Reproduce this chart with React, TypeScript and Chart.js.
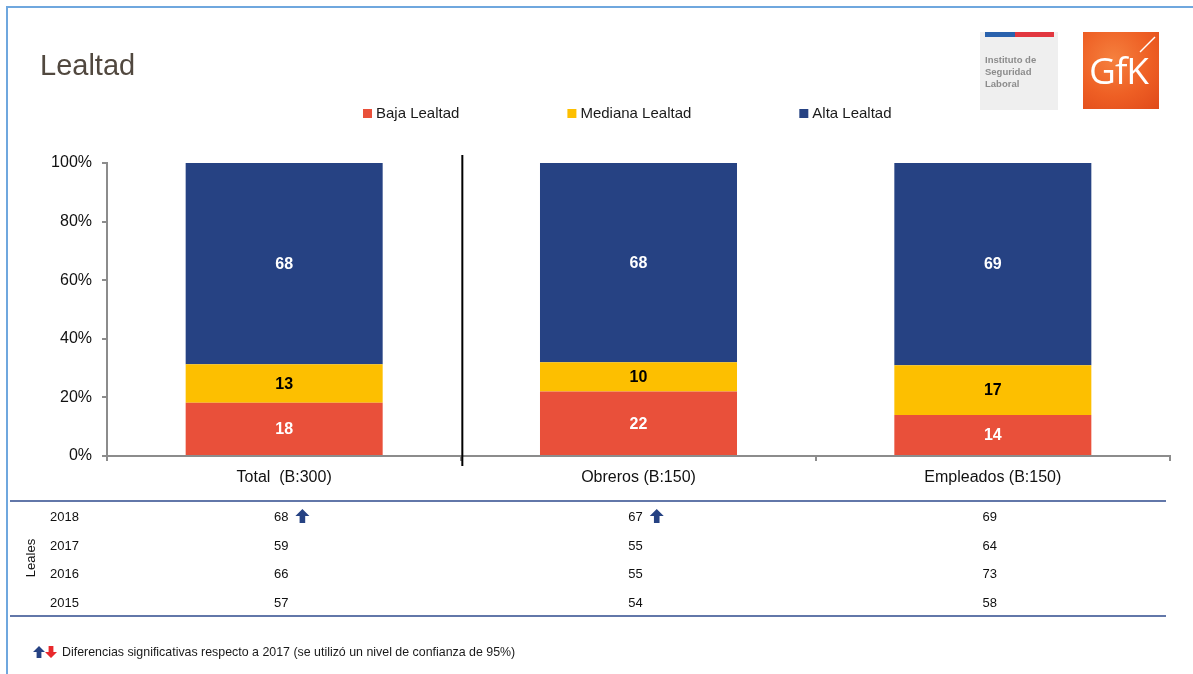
import React, { useEffect, useRef } from 'react';
import { Chart, registerables } from 'chart.js';

Chart.register(...registerables);

const FONT = "'Liberation Sans', Arial, Helvetica, sans-serif";

const categories = ['Total  (B:300)', 'Obreros (B:150)', 'Empleados (B:150)'];
const seriesNames = ['Baja Lealtad', 'Mediana Lealtad', 'Alta Lealtad'];
const bajaValues = [18, 22, 14];
const medianaValues = [13, 10, 17];
const altaValues = [68, 68, 69];
const yTickValues = [0, 20, 40, 60, 80, 100];

const tableYears = ['2018', '2017', '2016', '2015'];
const leales2018 = [68, 67, 69];
const leales2017 = [59, 55, 64];
const leales2016 = [66, 55, 73];
const leales2015 = [57, 54, 58];
const significantUp2018 = [true, true, false];
const tableSideLabel = 'Leales';
const footnote = 'Diferencias significativas respecto a 2017 (se utilizó un nivel de confianza de 95%)';

const seriesColors = ['#E9503A', '#FDBF00', '#264283'];
const labelColors = ['#ffffff', '#000000', '#ffffff'];
const rawSeries = [bajaValues, medianaValues, altaValues];
const tableRows = [leales2018, leales2017, leales2016, leales2015];

const totals = categories.map((_, i) => rawSeries.reduce((s, arr) => s + arr[i], 0));
const shareSeries = rawSeries.map((arr) => arr.map((v, i) => (v / totals[i]) * 100));

function drawArrow(ctx: CanvasRenderingContext2D, x: number, yTop: number, w: number, h: number, color: string, up: boolean) {
  ctx.save();
  ctx.fillStyle = color;
  ctx.beginPath();
  if (up) {
    ctx.moveTo(x + w / 2, yTop);
    ctx.lineTo(x + w, yTop + h * 0.5);
    ctx.lineTo(x + w * 0.7, yTop + h * 0.5);
    ctx.lineTo(x + w * 0.7, yTop + h);
    ctx.lineTo(x + w * 0.3, yTop + h);
    ctx.lineTo(x + w * 0.3, yTop + h * 0.5);
    ctx.lineTo(x, yTop + h * 0.5);
  } else {
    ctx.moveTo(x + w / 2, yTop + h);
    ctx.lineTo(x + w, yTop + h * 0.5);
    ctx.lineTo(x + w * 0.7, yTop + h * 0.5);
    ctx.lineTo(x + w * 0.7, yTop);
    ctx.lineTo(x + w * 0.3, yTop);
    ctx.lineTo(x + w * 0.3, yTop + h * 0.5);
    ctx.lineTo(x, yTop + h * 0.5);
  }
  ctx.closePath();
  ctx.fill();
  ctx.restore();
}

const overlayPlugin = {
  id: 'overlay',
  afterDatasetsDraw(chart: any) {
    const ctx: CanvasRenderingContext2D = chart.ctx;
    ctx.save();
    ctx.font = `bold 16px ${FONT}`;
    ctx.textAlign = 'center';
    ctx.textBaseline = 'middle';
    chart.data.datasets.forEach((_: any, di: number) => {
      const meta = chart.getDatasetMeta(di);
      meta.data.forEach((el: any, j: number) => {
        const p = el.getProps(['x', 'y', 'base'], true);
        ctx.fillStyle = labelColors[di];
        ctx.fillText(String(rawSeries[di][j]), p.x, (p.y + p.base) / 2 + 1);
      });
    });
    ctx.restore();
  },
  afterDraw(chart: any) {
    const ctx: CanvasRenderingContext2D = chart.ctx;
    const xs = chart.scales.x;
    const area = chart.chartArea;
    ctx.save();

    // legend (from the datasets)
    ctx.font = `15px ${FONT}`;
    ctx.textBaseline = 'middle';
    ctx.textAlign = 'left';
    let lx = 363;
    chart.data.datasets.forEach((ds: any) => {
      ctx.fillStyle = ds.backgroundColor;
      ctx.fillRect(lx, 109, 9, 9);
      ctx.fillStyle = '#1a1a1a';
      ctx.fillText(ds.label, lx + 13, 114);
      lx += 13 + ctx.measureText(ds.label).width + 108;
    });

    // separator between Total and the groups
    const sepX = (xs.getPixelForValue(0) + xs.getPixelForValue(1)) / 2 + 1;
    ctx.strokeStyle = '#000';
    ctx.lineWidth = 2;
    ctx.beginPath();
    ctx.moveTo(sepX, area.top - 8);
    ctx.lineTo(sepX, area.bottom + 10);
    ctx.stroke();

    // table lines
    ctx.strokeStyle = '#2E4A8C';
    ctx.lineWidth = 1.5;
    [501, 616].forEach((ly) => {
      ctx.beginPath();
      ctx.moveTo(10, ly);
      ctx.lineTo(1166, ly);
      ctx.stroke();
    });

    // table text
    ctx.fillStyle = '#111';
    ctx.font = `13px ${FONT}`;
    ctx.textBaseline = 'middle';
    const rowY = [517, 546, 574, 603];
    tableYears.forEach((yr, r) => {
      ctx.textAlign = 'left';
      ctx.fillStyle = '#111';
      ctx.fillText(yr, 50, rowY[r]);
      tableRows[r].forEach((v, c) => {
        const cx = xs.getPixelForValue(c) - 3;
        ctx.textAlign = 'center';
        ctx.fillStyle = '#111';
        ctx.fillText(String(v), cx, rowY[r]);
        if (r === 0 && significantUp2018[c]) {
          const tw = ctx.measureText(String(v)).width;
          drawArrow(ctx, cx + tw / 2 + 7, rowY[r] - 8, 14, 14, '#264283', true);
        }
      });
    });
    // side label
    ctx.save();
    ctx.translate(31, 558);
    ctx.rotate(-Math.PI / 2);
    ctx.textAlign = 'center';
    ctx.fillStyle = '#111';
    ctx.fillText(tableSideLabel, 0, 0);
    ctx.restore();

    // footnote
    drawArrow(ctx, 33, 646, 12, 12, '#264283', true);
    drawArrow(ctx, 45, 646, 12, 12, '#E8282B', false);
    ctx.font = `12.4px ${FONT}`;
    ctx.textAlign = 'left';
    ctx.fillStyle = '#1a1a1a';
    ctx.fillText(footnote, 62, 653);
    ctx.restore();
  },
};

function ChartCanvas() {
  const ref = useRef<HTMLCanvasElement | null>(null);
  useEffect(() => {
    if (!ref.current) return;
    Chart.defaults.font.family = FONT;
    const chart = new Chart(ref.current, {
      type: 'bar',
      data: {
        labels: categories,
        datasets: seriesNames.map((name, i) => ({
          label: name,
          data: shareSeries[i],
          backgroundColor: seriesColors[i],
          borderWidth: 0,
          barPercentage: 0.556,
          categoryPercentage: 1,
        })),
      },
      options: {
        animation: false,
        responsive: false,
        layout: { padding: { left: 47, right: 23, top: 163, bottom: 178 } },
        plugins: {
          legend: { display: false },
          tooltip: { enabled: false },
        },
        scales: {
          x: {
            stacked: true,
            position: 'bottom',
            grid: { drawOnChartArea: false, drawTicks: true, tickLength: 5, color: '#8c8c8c', lineWidth: 2 },
            border: { color: '#8c8c8c', width: 2 },
            ticks: { color: '#111', font: { size: 16 }, padding: 7, maxRotation: 0 },
            afterFit: (s: any) => { s.height = 40; },
          },
          y: {
            stacked: true,
            min: yTickValues[0],
            max: yTickValues[yTickValues.length - 1],
            ticks: {
              stepSize: yTickValues[1] - yTickValues[0],
              callback: (v: any) => `${v}%`,
              color: '#111',
              font: { size: 16 },
              padding: 10,
            },
            grid: { drawOnChartArea: false, drawTicks: true, tickLength: 5, color: '#8c8c8c', lineWidth: 2 },
            border: { color: '#8c8c8c', width: 2 },
            afterFit: (s: any) => { s.width = 60; },
          },
        },
      } as any,
      plugins: [overlayPlugin],
    });
    return () => chart.destroy();
  }, []);
  return (
    <canvas
      ref={ref}
      width={1193}
      height={674}
      style={{ position: 'absolute', left: 0, top: 0, width: 1193, height: 674 }}
    />
  );
}

export default function App() {
  return (
    <div
      style={{
        position: 'fixed',
        left: 0,
        top: 0,
        width: 1193,
        height: 674,
        overflow: 'hidden',
        background: '#fff',
        fontFamily: FONT,
      }}
    >
      <div
        style={{
          position: 'absolute',
          left: 6,
          top: 6,
          width: 1300,
          height: 800,
          borderTop: '2px solid #6FA7DE',
          borderLeft: '2px solid #6FA7DE',
        }}
      />
      <ChartCanvas />
      <div
        style={{
          position: 'absolute',
          left: 40,
          top: 51,
          fontSize: 29,
          lineHeight: '29px',
          color: '#51483F',
          fontFamily: FONT,
        }}
      >
        Lealtad
      </div>
      {/* Instituto de Seguridad Laboral logo */}
      <div style={{ position: 'absolute', left: 980, top: 32, width: 78, height: 78, background: '#EFEFEF' }}>
        <div style={{ position: 'absolute', left: 5, top: 0, width: 30, height: 5, background: '#2A62AD' }} />
        <div style={{ position: 'absolute', left: 35, top: 0, width: 39, height: 5, background: '#E2373F' }} />
        <div
          style={{
            position: 'absolute',
            left: 5,
            top: 22,
            fontSize: 9.5,
            lineHeight: '12px',
            fontWeight: 'bold',
            color: '#8C8C8C',
            fontFamily: FONT,
          }}
        >
          Instituto de
          <br />
          Seguridad
          <br />
          Laboral
        </div>
      </div>
      {/* GfK logo */}
      <div
        style={{
          position: 'absolute',
          left: 1083,
          top: 32,
          width: 76,
          height: 77,
          background: 'radial-gradient(circle at 40% 35%, #F5803E 0%, #EE5F24 55%, #E04A1A 100%)',
        }}
      >
        <svg width={76} height={77} style={{ position: 'absolute', left: 0, top: 0 }}>
          <text x={6} y={52} fontSize={37} fill="#fff" fontFamily="'Open Sans', 'DejaVu Sans', sans-serif" textLength={60}>
            GfK
          </text>
          <line x1={57} y1={20} x2={72} y2={5} stroke="#fff" strokeWidth={1.5} />
        </svg>
      </div>
    </div>
  );
}
